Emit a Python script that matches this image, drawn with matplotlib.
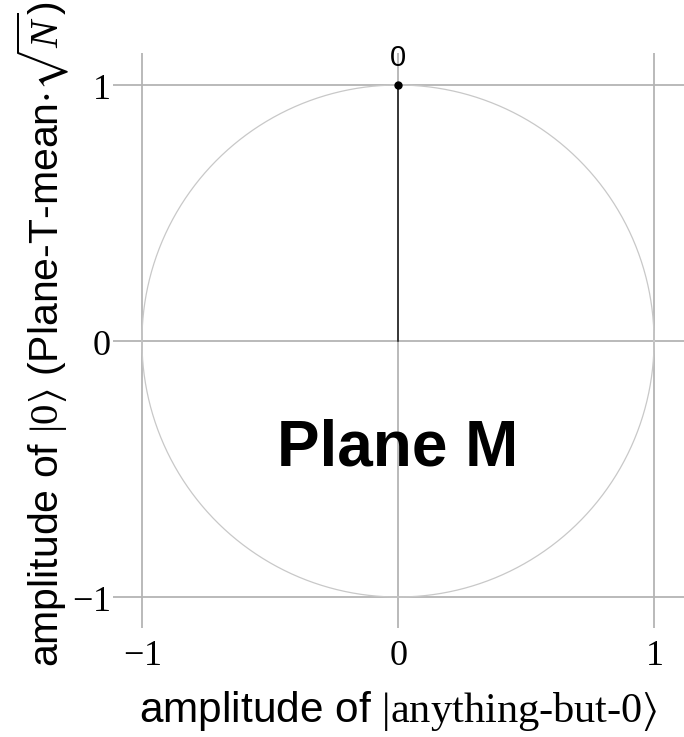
import numpy as np
import matplotlib
matplotlib.use('Agg')
import matplotlib.pyplot as plt

plt.rcParams['font.family'] = ['Liberation Sans', 'DejaVu Sans']
plt.rcParams['mathtext.fontset'] = 'custom'
plt.rcParams['mathtext.rm'] = 'Liberation Serif'
plt.rcParams['mathtext.it'] = 'Liberation Serif:italic'
plt.rcParams['mathtext.bf'] = 'Liberation Serif:bold'
plt.rcParams['mathtext.fallback'] = 'stix'

# 数据
tick_vals = [-1, 0, 1]
tick_labels = ['$-1$', '$0$', '$1$']
vec_x = [0, 0]
vec_y = [0, 1]
point_label = '0'
plane_name = 'Plane M'
plane_pos = (0, -0.42)

fig = plt.figure(figsize=(6.84, 7.37), dpi=100)
# 坐标轴位置按像素算
ax = fig.add_axes([113 / 684, 1 - 628 / 737, 571 / 684, 575 / 737])
ax.set_xlim(-1.113, 1.117)
ax.set_ylim(-1.121, 1.125)

for s in ax.spines.values():
    s.set_visible(False)

for v in tick_vals:
    ax.axvline(v, color='#b4b4b4', lw=1.3, zorder=1)
    ax.axhline(v, color='#b4b4b4', lw=1.3, zorder=1)

t = np.linspace(0, 2 * np.pi, 400)
ax.plot(np.cos(t), np.sin(t), color='#c8c8c8', lw=0.9, zorder=2)

ax.plot(vec_x, vec_y, color='#222222', lw=1.2, zorder=3)
ax.plot(vec_x[-1], vec_y[-1], 'o', color='black', ms=5, zorder=4)
ax.text(vec_x[-1], vec_y[-1] + 0.05, point_label, ha='center', va='bottom',
        fontsize=21, family='Liberation Sans')

ax.text(plane_pos[0], plane_pos[1], plane_name, ha='center', va='center',
        fontsize=46, fontweight='bold')

ax.set_xticks(tick_vals)
ax.set_yticks(tick_vals)
ax.set_xticklabels(tick_labels, fontsize=26)
ax.set_yticklabels(tick_labels, fontsize=26)
ax.tick_params(axis='x', length=0, pad=7)
ax.tick_params(axis='y', length=0, pad=2)

ax.set_xlabel(r'amplitude of $|\text{anything-but-0}\rangle$', fontsize=30.5, labelpad=12)
ax.set_ylabel(r'amplitude of $|0\rangle$ (Plane-T-mean$\cdot\sqrt{N}$)', fontsize=29.5)
ax.yaxis.set_label_coords(-0.073, 0.51)

fig.savefig('out.png', dpi=100)
